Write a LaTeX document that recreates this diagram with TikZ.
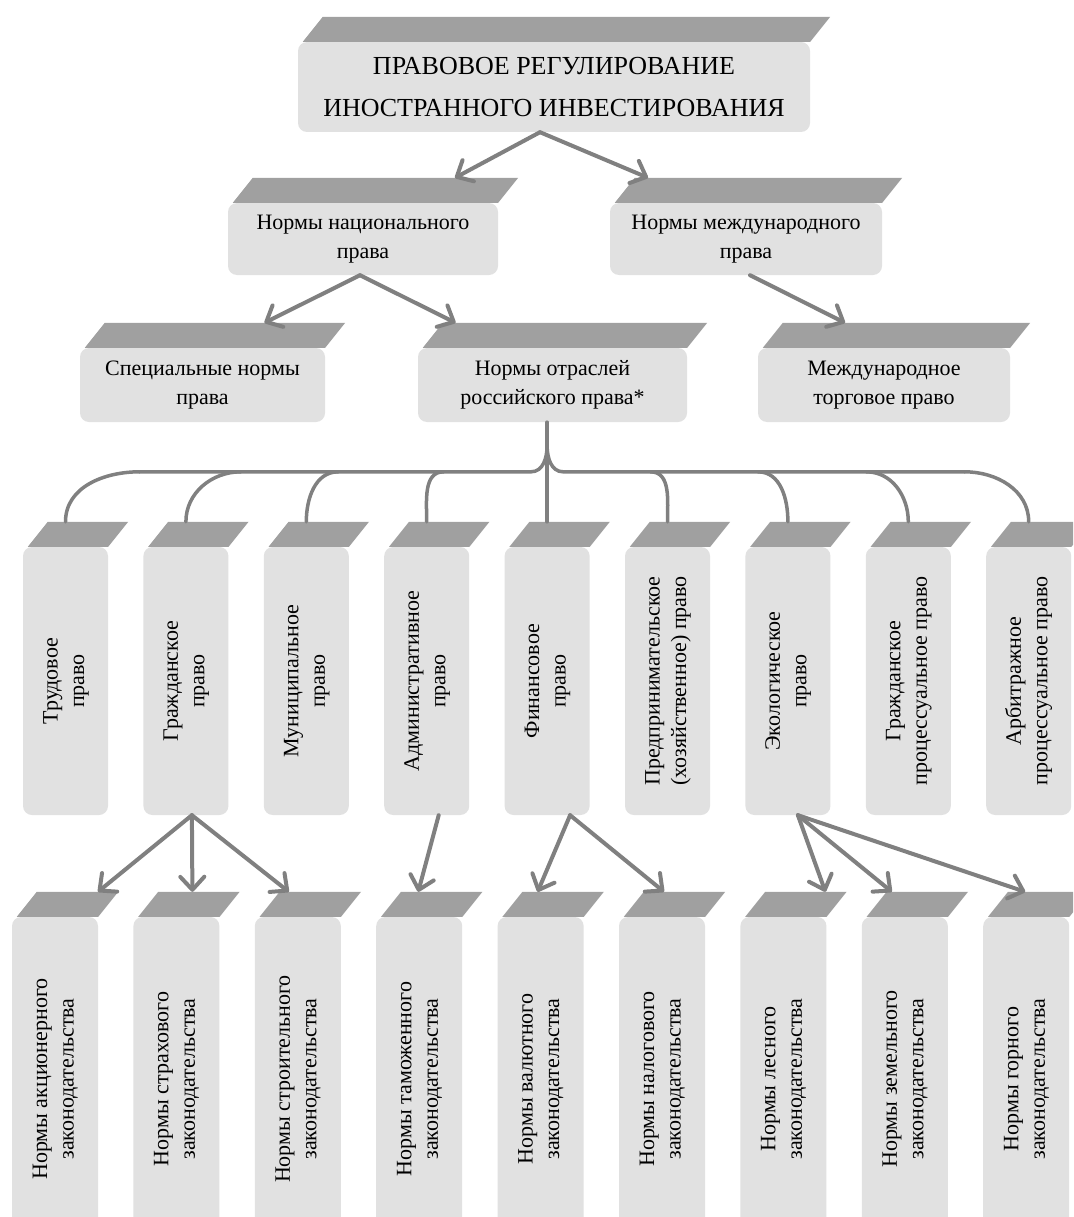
\documentclass[tikz,border=0pt]{standalone}
\usepackage{fontspec}
\setmainfont{Liberation Serif}
\usepackage{graphicx}
\usetikzlibrary{positioning}
\usetikzlibrary{arrows.meta}
\usetikzlibrary{calc}
\definecolor{facegray}{RGB}{225,225,225}
\definecolor{stripgray}{RGB}{160,160,160}
\definecolor{linegray}{RGB}{128,128,128}
\newcommand{\vlabel}[1]{\rotatebox{90}{\begin{tabular}{@{}c@{}}#1\end{tabular}}}

\begin{document}
\begin{tikzpicture}
          [x=1pt, y=1pt, node distance=35pt,
           box/.style={fill=facegray, rounded corners=9pt, align=center, inner sep=0pt,
                       font=\fontsize{22}{29}\selectfont},
           vbox/.style={box, minimum width=85pt, minimum height=268pt,
                        font=\fontsize{22}{26.5}\selectfont},
           lbox/.style={vbox, minimum width=86pt, minimum height=324pt},
           line/.style={draw=linegray, line width=3.5pt, line cap=round},
           arr/.style={line, line width=4pt, -{Straight Barb[length=13pt,width=24pt,round]}}]
          \useasboundingbox (0,0) rectangle (1073,-1217);
          \clip (0,0) rectangle (1073,-1217);
          \fill[white] (0,0) rectangle (1073,-1217);

          \node (top) [box, minimum width=512pt, minimum height=90pt,
                       font=\fontsize{26}{42}\selectfont] at (554,-87)
                {ПРАВОВОЕ РЕГУЛИРОВАНИЕ\\ИНОСТРАННОГО ИНВЕСТИРОВАНИЯ};
          \node (nat) [box, minimum width=270pt, minimum height=72pt] at (363,-239)
                {Нормы национального\\права};
          \node (intl) [box, minimum width=272pt, minimum height=72pt] at (746,-239)
                {Нормы международного\\права};
          \node (spec) [box, minimum width=245pt, minimum height=74pt] at (202.5,-385)
                {Специальные нормы\\права};
          \node (otr) [box, minimum width=269pt, minimum height=74pt] at (552.5,-385)
                {Нормы отраслей\\российского права*};
          \node (mtp) [box, minimum width=252pt, minimum height=74pt] at (884,-385)
                {Международное\\торговое право};

          % branches of Russian law
          \node (trud) [vbox] at (65.5,-681) {\vlabel{Трудовое\\право}};
          \node (grazh) [vbox, right=of trud] {\vlabel{Гражданское\\право}};
          \node (mun) [vbox, right=of grazh] {\vlabel{Муниципальное\\право}};
          \node (adm) [vbox, right=of mun] {\vlabel{Административное\\право}};
          \node (fin) [vbox, right=of adm] {\vlabel{Финансовое\\право}};
          \node (pred) [vbox, right=of fin] {\vlabel{Предпринимательское\\(хозяйственное) право}};
          \node (eco) [vbox, right=of pred] {\vlabel{Экологическое\\право}};
          \node (gpp) [vbox, right=of eco] {\vlabel{Гражданское\\процессуальное право}};
          \node (app) [vbox, right=of gpp] {\vlabel{Арбитражное\\процессуальное право}};

          % legislation
          \node (akc) [lbox] at (55,-1079) {\vlabel{Нормы акционерного\\законодательства}};
          \node (strah) [lbox, right=of akc] {\vlabel{Нормы страхового\\законодательства}};
          \node (stroi) [lbox, right=of strah] {\vlabel{Нормы строительного\\законодательства}};
          \node (tam) [lbox, right=of stroi] {\vlabel{Нормы таможенного\\законодательства}};
          \node (val) [lbox, right=of tam] {\vlabel{Нормы валютного\\законодательства}};
          \node (nal) [lbox, right=of val] {\vlabel{Нормы налогового\\законодательства}};
          \node (les) [lbox, right=of nal] {\vlabel{Нормы лесного\\законодательства}};
          \node (zem) [lbox, right=of les] {\vlabel{Нормы земельного\\законодательства}};
          \node (gor) [lbox, right=of zem] {\vlabel{Нормы горного\\законодательства}};

          % top faces
          \foreach \n in {top,nat,intl,spec,otr,mtp,trud,grazh,mun,adm,fin,pred,eco,gpp,app,
                          akc,strah,stroi,tam,val,nal,les,zem,gor}
            \fill[stripgray] ([xshift=5]\n.north west) -- ++(20,25)
                             -- ([shift={(20,25)}]\n.north east) -- (\n.north east) -- cycle;

          \draw[arr] ([xshift=-14]top.south) -- ([shift={(92,25)}]nat.north);
          \draw[arr] ([xshift=-14]top.south) -- ([shift={(-98,25)}]intl.north);
          \draw[arr] ([xshift=-3]nat.south) -- ([shift={(62,25)}]spec.north);
          \draw[arr] ([xshift=-3]nat.south) -- ([shift={(-97,25)}]otr.north);
          \draw[arr] ([xshift=4]intl.south) -- ([shift={(-39,25)}]mtp.north);

          % bus
          \coordinate (busL) at ($(trud.north)+(74,75)$);
          \coordinate (busR) at ($(app.north)+(-64,75)$);
          \coordinate (forkL) at ($(fin.north)+(-16,75)$);
          \coordinate (forkR) at ($(fin.north)+(16,75)$);
          \coordinate (fork) at ($(fin.north)+(0,101)$);
          \draw[line] (otr.south -| fin.north) -- ([yshift=25]fin.north);
          \draw[line] (busL) -- (forkL) to[out=0,in=-90] (fork);
          \draw[line] (busR) -- (forkR) to[out=180,in=-90] (fork);
          \foreach \n/\d in {trud/74,grazh/55,mun/32,adm/17}
            \draw[line] ($(\n.north |- busL)+(\d,0)$) to[out=180,in=90] ([yshift=25]\n.north);
          \foreach \n/\d in {pred/17,eco/30,gpp/42,app/64}
            \draw[line] ($(\n.north |- busL)-(\d,0)$) to[out=0,in=90] ([yshift=25]\n.north);

          \foreach \a/\sx/\b/\tx in {grazh/6/akc/43, grazh/6/strah/16, grazh/6/stroi/-9,
                                      adm/12/tam/-1, fin/23/val/-3, fin/23/nal/2,
                                      eco/10/les/42, eco/10/zem/-13, eco/10/gor/-1}
            \draw[arr] ([xshift=\sx]\a.south) -- ([shift={(\tx,25)}]\b.north);
        \end{tikzpicture}
\end{document}
